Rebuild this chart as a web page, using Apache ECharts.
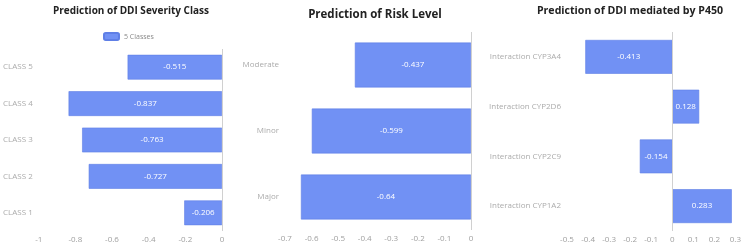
<!DOCTYPE html>
<html>
<head>
<meta charset="utf-8">
<script src="https://cdn.jsdelivr.net/npm/echarts@6/dist/echarts.min.js"></script>
<style>
  html, body { margin: 0; padding: 0; background: #fff; }
  #chart { width: 744px; height: 244px; }
</style>
</head>
<body>
<div id="chart"></div>
<script>
// severity class panel
var severityCats = ['CLASS 1', 'CLASS 2', 'CLASS 3', 'CLASS 4', 'CLASS 5'];
var severityVals = [-0.206, -0.727, -0.763, -0.837, -0.515];
// risk level panel
var riskCats = ['Major', 'Minor', 'Moderate'];
var riskVals = [-0.64, -0.599, -0.437];
// P450 panel
var p450Cats = ['Interaction CYP1A2', 'Interaction CYP2C9', 'Interaction CYP2D6', 'Interaction CYP3A4'];
var p450Vals = [0.283, -0.154, 0.128, -0.413];

var titles = ['Prediction of DDI Severity Class', 'Prediction of Risk Level', 'Prediction of DDI mediated by P450'];

var barColor = '#7191f4';
var font = 'Open Sans';

var zeroLine = {
    silent: true,
    symbol: ['none', 'none'],
    label: {show: false},
    lineStyle: {color: '#d0d0d0', type: 'solid', width: 1},
    data: [{xAxis: 0}]
};

function xAx(idx, min, max, interval) {
    return {
        type: 'value', gridIndex: idx, min: min, max: max, interval: interval,
        axisLine: {show: false}, axisTick: {show: false}, splitLine: {show: false},
        axisLabel: {color: '#a0a0a0', fontSize: 8, fontFamily: font, margin: 5,
            formatter: function (v) { return String(Math.round(v * 10) / 10); }}
    };
}

function yAx(idx, cats) {
    return {
        type: 'category', gridIndex: idx, data: cats,
        axisLine: {show: false}, axisTick: {show: false}, splitLine: {show: false},
        axisLabel: {color: '#ababab', fontSize: 8, fontFamily: font, margin: 6}
    };
}

function barSeries(idx, name, vals) {
    return {
        name: name, type: 'bar', xAxisIndex: idx, yAxisIndex: idx,
        data: vals, barWidth: '68%',
        itemStyle: {color: barColor, borderColor: '#5f7fe6', borderWidth: 0.6},
        label: {show: true, position: 'inside', color: '#fff', fontSize: 8, fontFamily: font},
        markLine: zeroLine
    };
}

function titleOf(i, x, y, size) {
    return {text: titles[i], left: x, top: y, textAlign: 'center',
        textStyle: {fontSize: size, fontWeight: 'bold', color: '#222', fontFamily: font}};
}

var option = {
    animation: false,
    textStyle: {fontFamily: font},
    title: [
        titleOf(0, 126, 1, 10),
        titleOf(1, 370, 4, 11.5),
        titleOf(2, 625, 0, 10.6)
    ],
    legend: {
        data: ['5 Classes'], left: 98, top: 27,
        itemWidth: 15, itemHeight: 7, itemGap: 4,
        textStyle: {color: '#888', fontSize: 7, fontFamily: font}
    },
    grid: [
        {left: 37, right: 522, top: 49, height: 183},
        {left: 285, right: 273, top: 32, height: 198},
        {left: 567, right: 8, top: 32, height: 200}
    ],
    xAxis: [
        xAx(0, -1, 0, 0.2),
        xAx(1, -0.7, 0, 0.1),
        xAx(2, -0.5, 0.3, 0.1)
    ],
    yAxis: [
        yAx(0, severityCats),
        yAx(1, riskCats),
        yAx(2, p450Cats)
    ],
    series: [
        barSeries(0, '5 Classes', severityVals),
        barSeries(1, 'Risk Level', riskVals),
        barSeries(2, 'P450', p450Vals)
    ]
};

var myChart = echarts.init(document.getElementById('chart'));
myChart.setOption(option);
</script>
</body>
</html>
